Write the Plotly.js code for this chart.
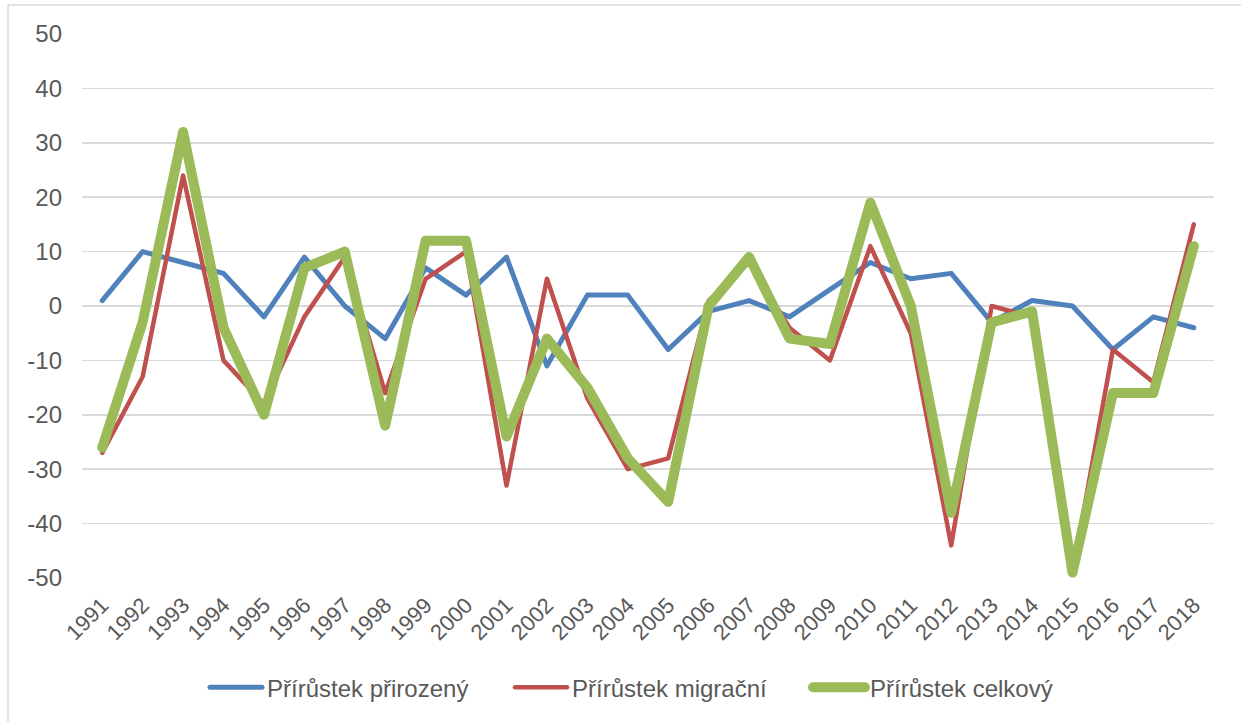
<!DOCTYPE html>
<html>
<head>
<meta charset="utf-8">
<script src="https://cdn.plot.ly/plotly-3.0.1.min.js"></script>
<style>
html,body{margin:0;padding:0;background:#fff;}
#chart{width:1241px;height:722px;}
#chart .js-line{stroke-linejoin:round !important;stroke-linecap:round !important;}
#chart .legendlines path{stroke-linecap:round !important;d:path("M8,0h52");}
</style>
</head>
<body>
<div id="chart"></div>
<script>
const years = ["1991","1992","1993","1994","1995","1996","1997","1998","1999","2000","2001","2002","2003","2004","2005","2006","2007","2008","2009","2010","2011","2012","2013","2014","2015","2016","2017","2018"];
const prirozeny = [1,10,8,6,-2,9,0,-6,7,2,9,-11,2,2,-8,-1,1,-2,3,8,5,6,-3,1,0,-8,-2,-4];
const migracni = [-27,-13,24,-10,-18,-2,9,-16,5,10,-33,5,-17,-30,-28,1,8,-4,-10,11,-5,-44,0,-2,-49,-8,-14,15];
const celkovy = [-26,-3,32,-4,-20,7,10,-22,12,12,-24,-6,-15,-28,-36,0,9,-6,-7,19,0,-38,-3,-1,-49,-16,-16,11];
const names = ["Přírůstek přirozený","Přírůstek migrační","Přírůstek celkový"];
const yTickVals = [-50,-40,-30,-20,-10,0,10,20,30,40,50];
const yTickText = ["-50","-40","-30","-20","-10","0","10","20","30","40","50"];

const traces = [
  {x: years, y: prirozeny, name: names[0], type: 'scatter', mode: 'lines', legend: 'legend',
   line: {color: '#4F81BD', width: 5}},
  {x: years, y: migracni, name: names[1], type: 'scatter', mode: 'lines', legend: 'legend2',
   line: {color: '#C0504D', width: 4.5}},
  {x: years, y: celkovy, name: names[2], type: 'scatter', mode: 'lines', legend: 'legend3',
   line: {color: '#9BBB59', width: 10}}
];

const L = 82, R = 1214, T = 34, B = 580;
const W = R - L, H = B - T;
const legY = (B - 690) / H;
function leg(px) {
  return {orientation: 'h', x: (px - L) / W, xanchor: 'left', y: legY, yanchor: 'middle',
          itemwidth: 55,
          font: {size: 24, color: '#595959'}, bgcolor: 'rgba(0,0,0,0)', borderwidth: 0};
}

const layout = {
  width: 1241, height: 722,
  margin: {l: L, r: 1241 - R, t: T, b: 722 - B},
  paper_bgcolor: '#ffffff', plot_bgcolor: '#ffffff',
  font: {family: 'Liberation Sans, Arial, sans-serif', color: '#595959', size: 20},
  showlegend: true,
  legend: leg(202),
  legend2: leg(507),
  legend3: leg(805),
  xaxis: {type: 'category', range: [-0.5, 27.5], tickangle: -45, showgrid: false, zeroline: false,
          showline: false, ticks: '', ticklabelstandoff: 9, tickfont: {size: 22, color: '#595959'},
          automargin: false, fixedrange: true},
  yaxis: {range: [-50, 50], tickmode: 'array', tickvals: yTickVals, ticktext: yTickText,
          showgrid: true, gridcolor: '#d9d9d9', gridwidth: 1.5,
          zeroline: false, showline: false, ticks: '', ticklabelstandoff: 19,
          tickfont: {size: 24, color: '#595959'}, automargin: false, fixedrange: true},
  shapes: [
    {type: 'rect', xref: 'paper', yref: 'paper',
     x0: (8 - L) / W, x1: (1260 - L) / W, y0: (B - 740) / H, y1: (B - 5) / H,
     line: {color: '#d9d9d9', width: 1.5}, fillcolor: 'rgba(0,0,0,0)', layer: 'below'}
  ]
};

Plotly.newPlot('chart', traces, layout, {displayModeBar: false, staticPlot: true});
</script>
</body>
</html>
